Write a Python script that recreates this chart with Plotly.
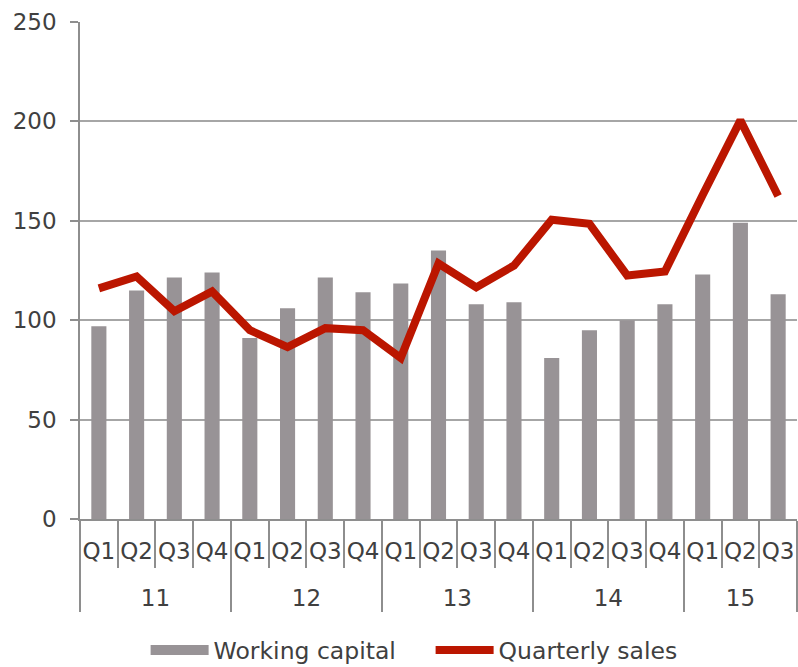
import plotly.graph_objects as go

years = ["11"] * 4 + ["12"] * 4 + ["13"] * 4 + ["14"] * 4 + ["15"] * 3
quarters = ["Q1", "Q2", "Q3", "Q4"] * 4 + ["Q1", "Q2", "Q3"]
working_capital = [97, 115, 121.5, 124, 91, 106, 121.5, 114, 118.5, 135, 108, 109,
                   81, 95, 100, 108, 123, 149, 113]
quarterly_sales = [116, 122, 104.5, 114.5, 95, 86.5, 96, 95, 81, 128.5, 116.5, 127.5,
                   150.5, 148.5, 122.5, 124.5, 163, 200.5, 162.5]

BAR = "#989396"
RED = "#BB1600"
TXT = "#404040"
AX = "#8E8E8E"
FONT = "DejaVu Sans, sans-serif"

# outer (year) labels pushed one line lower, as in the reference
year_labels = ["<br>" + y for y in years]
x = [year_labels, quarters]

fig = go.Figure()
fig.add_trace(go.Bar(x=x, y=working_capital, name="Working capital",
                     marker=dict(color=BAR, line=dict(width=0)),
                     showlegend=False, legendgroup="wc"))
fig.add_trace(go.Scatter(x=x, y=[None] * len(years), name="Working capital",
                         mode="lines", line=dict(color=BAR, width=11),
                         legendgroup="wc", hoverinfo="skip"))
fig.add_trace(go.Scatter(x=x, y=quarterly_sales, name="Quarterly sales",
                         mode="lines", line=dict(color=RED, width=8)))

fig.update_layout(
    width=798, height=667,
    margin=dict(l=80, r=1, t=22, b=148, autoexpand=False),
    paper_bgcolor="white", plot_bgcolor="white",
    font=dict(family=FONT, size=23, color=TXT),
    bargap=0.6,
    showlegend=True,
    legend=dict(orientation="h", x=0.489, xanchor="center", y=-0.264, yanchor="middle",
                font=dict(size=23.5, color=TXT), itemwidth=58, traceorder="normal",
                entrywidth=212, bgcolor="rgba(0,0,0,0)"),
)
fig.update_xaxes(
    type="multicategory",
    showline=True, linecolor=AX, linewidth=1.5,
    ticks="outside", tickson="boundaries", ticklen=47, tickcolor=AX, tickwidth=1.5,
    showdividers=True, dividercolor=AX, dividerwidth=1.5,
    showgrid=False, tickangle=0,
    ticklabelstandoff=11,
    tickfont=dict(size=23, color=TXT),
)
fig.update_yaxes(
    range=[0, 250], dtick=50, tick0=0,
    showline=True, linecolor=AX, linewidth=1.5,
    showgrid=True, gridcolor="#A6A6A6", gridwidth=1.5,
    ticks="outside", ticklen=8, tickcolor=AX, tickwidth=1.5,
    ticklabelstandoff=9,
    zeroline=False,
    tickfont=dict(size=23, color=TXT),
)

fig.write_html("out.html")
